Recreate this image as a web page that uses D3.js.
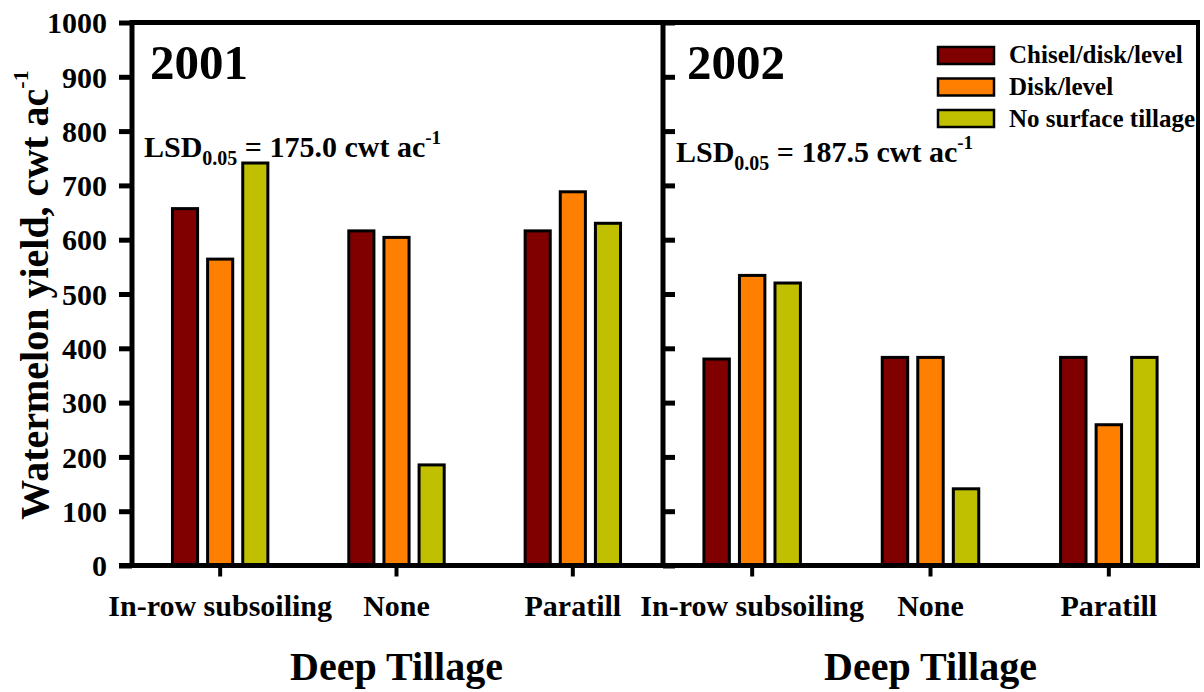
<!DOCTYPE html>
<html><head><meta charset="utf-8">
<script src="https://cdn.jsdelivr.net/npm/d3@7"></script>
<style>
html,body{margin:0;padding:0;background:#fff;}
text{font-family:"Liberation Serif","Times New Roman",serif;font-weight:bold;fill:#000;}
</style></head>
<body>
<svg id="chart" width="1204" height="692"></svg>
<script>
// ---- data ----
const categories = ["In-row subsoiling", "None", "Paratill"];
const seriesNames = ["Chisel/disk/level", "Disk/level", "No surface tillage"];
const seriesColors = ["#800000", "#FF8000", "#C0C000"];
const years = ["2001", "2002"];
const chisel2001 = [660, 619, 619];
const disk2001 = [567, 607, 691];
const noSurface2001 = [744, 188, 633];
const chisel2002 = [383, 386, 386];
const disk2002 = [537, 386, 262];
const noSurface2002 = [523, 144, 386];
const lsdValues = ["175.0", "187.5"];
const yTicks = [0, 100, 200, 300, 400, 500, 600, 700, 800, 900, 1000];
const xTitle = "Deep Tillage";
const yTitle = "Watermelon yield, cwt ac";

const panelData = [
  [chisel2001, disk2001, noSurface2001],
  [chisel2002, disk2002, noSurface2002]
];

// ---- layout ----
const svg = d3.select("#chart");
const yTop = 22.5, yBottom = 565.5;
const panels = [
  {x0: 132, x1: 661},
  {x0: 663, x1: 1198}
];
const y = d3.scaleLinear().domain([0, 1000]).range([yBottom, yTop]);

panels.forEach((p, pi) => {
  const g = svg.append("g");
  const x = d3.scaleBand().domain(categories).range([p.x0, p.x1]).padding(0);
  const half = x.bandwidth() * 0.279;
  const xs = d3.scaleBand().domain(seriesNames).range([-half, half]).paddingInner(0.2);

  // bars
  categories.forEach((c, ci) => {
    seriesNames.forEach((s, si) => {
      const v = panelData[pi][si][ci];
      const cx = x(c) + x.bandwidth() / 2;
      g.append("rect")
        .attr("x", cx + xs(s) + 1.5)
        .attr("width", xs.bandwidth() - 3)
        .attr("y", y(v) + 1.5)
        .attr("height", y(0) - y(v) - 1.5)
        .attr("fill", seriesColors[si])
        .attr("stroke", "#000")
        .attr("stroke-width", 3);
    });
  });

  // x axis
  const xa = g.append("g").attr("transform", `translate(0,${yBottom})`)
    .call(d3.axisBottom(x).tickSize(11).tickSizeOuter(0));
  xa.select(".domain").remove();
  xa.selectAll(".tick line").attr("stroke", "#000").attr("stroke-width", 4);
  xa.selectAll(".tick text").attr("y", 0).attr("dy", 0).attr("transform", "translate(0,50.5)")
    .style("font-size", "30px").style("font-family", '"Liberation Serif",serif').style("font-weight", "bold").attr("fill", "#000");

  // y axis
  if (pi === 0) {
    const ya = g.append("g").attr("transform", `translate(${p.x0},0)`)
      .call(d3.axisLeft(y).tickValues(yTicks).tickFormat(d3.format("d")).tickSize(13).tickPadding(12).tickSizeOuter(0));
    ya.select(".domain").remove();
    ya.selectAll(".tick line").attr("stroke", "#000").attr("stroke-width", 5);
    ya.selectAll(".tick text").style("font-size", "30px").style("font-family", '"Liberation Serif",serif')
      .style("font-weight", "bold").attr("fill", "#000").attr("dy", "0.34em");
  } else {
    const ya = g.append("g").attr("transform", `translate(${p.x0},0)`)
      .call(d3.axisRight(y).tickValues(yTicks).tickSize(12).tickFormat("").tickSizeOuter(0));
    ya.select(".domain").remove();
    ya.selectAll(".tick line").attr("stroke", "#000").attr("stroke-width", 5);
  }

  // frame
  g.append("line").attr("x1", p.x0).attr("x2", p.x0).attr("y1", yTop - 2.5).attr("y2", yBottom + 2.5)
    .attr("stroke", "#000").attr("stroke-width", 5);
  g.append("line").attr("x1", p.x0 - (pi === 0 ? 13 : 0)).attr("x2", p.x1).attr("y1", yBottom).attr("y2", yBottom)
    .attr("stroke", "#000").attr("stroke-width", 5);
  g.append("line").attr("x1", p.x0).attr("x2", p.x1).attr("y1", yTop).attr("y2", yTop)
    .attr("stroke", "#000").attr("stroke-width", 5);

  // year label
  g.append("text").attr("x", pi === 0 ? 150 : 687).attr("y", 79)
    .style("font-size", "49px").text(years[pi]);

  // LSD label
  const lsd = g.append("text").attr("x", pi === 0 ? 144 : 676).attr("y", pi === 0 ? 157 : 162)
    .style("font-size", "30px");
  lsd.append("tspan").text("LSD");
  lsd.append("tspan").attr("dy", 8).style("font-size", "20px").text("0.05");
  lsd.append("tspan").attr("dy", -8).text(` = ${lsdValues[pi]} cwt ac`);
  lsd.append("tspan").attr("dy", -13).style("font-size", "19px").text("-1");

  // x title
  g.append("text").attr("x", (p.x0 + p.x1) / 2).attr("y", 680).attr("text-anchor", "middle")
    .style("font-size", "40px").text(xTitle);
});

// right border
svg.append("line").attr("x1", 1198).attr("x2", 1198).attr("y1", yTop - 2.5).attr("y2", yBottom + 2.5)
  .attr("stroke", "#000").attr("stroke-width", 4);

// y title
const yt = svg.append("text").attr("transform", "translate(48,295) rotate(-90)")
  .attr("text-anchor", "middle").style("font-size", "40px");
yt.append("tspan").text(yTitle);
yt.append("tspan").attr("dy", -20).style("font-size", "22px").text("-1");

// legend
const lg = svg.append("g");
seriesNames.forEach((s, i) => {
  lg.append("rect").attr("x", 938).attr("y", 47 + i * 31.5).attr("width", 56).attr("height", 17)
    .attr("fill", seriesColors[i]).attr("stroke", "#000").attr("stroke-width", 2.5);
  lg.append("text").attr("x", 1009).attr("y", 63 + i * 32).style("font-size", "25px").text(s);
});
</script>
</body></html>
